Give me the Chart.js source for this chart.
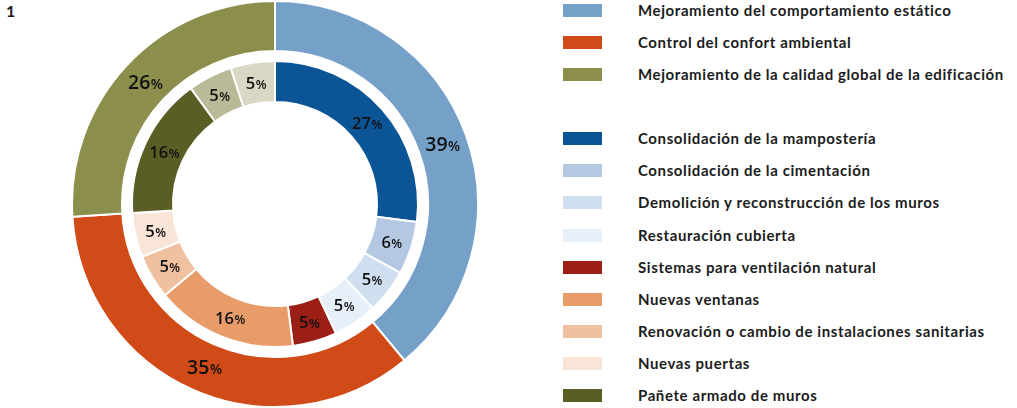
<!DOCTYPE html>
<html>
<head>
<meta charset="utf-8">
<script src="https://cdn.jsdelivr.net/npm/chart.js@4/dist/chart.umd.min.js"></script>
<style>
  html, body { margin: 0; padding: 0; background: #fff; }
  body { width: 1017px; height: 408px; position: relative; overflow: hidden; font-family: Lato, "Liberation Sans", sans-serif; }
  #num { position: absolute; left: 6px; top: 1px; font-weight: 700; font-size: 16px; color: #1a1a1a; }
  #wrap { position: absolute; left: 71px; top: 0; width: 408px; height: 408px; }
  #legend { position: absolute; left: 0; top: 0; }
  .row { position: absolute; left: 563px; height: 14px; white-space: nowrap; }
  .sw { position: absolute; left: 0; top: 0; width: 39px; height: 13px; }
  .lb { position: absolute; left: 75px; top: -3px; font-weight: 700; font-size: 15px; color: #1c1c1c; letter-spacing: 0.6px; }
</style>
</head>
<body>
<div id="num">1</div>
<div id="wrap"><canvas id="myChart" width="408" height="408"></canvas></div>
<div id="legend"></div>
<script>
// outer ring: three main groups
const groupLabels = [
  "Mejoramiento del comportamiento estático",
  "Control del confort ambiental",
  "Mejoramiento de la calidad global de la edificación"
];
const groupValues = [39, 35, 26];
const groupColors = ["#75a1c9", "#d04b18", "#8c8e4b"];

// inner ring: individual interventions (last two olive slices have no legend entry)
const itemLabels = [
  "Consolidación de la mampostería",
  "Consolidación de la cimentación",
  "Demolición y reconstrucción de los muros",
  "Restauración cubierta",
  "Sistemas para ventilación natural",
  "Nuevas ventanas",
  "Renovación o cambio de instalaciones sanitarias",
  "Nuevas puertas",
  "Pañete armado de muros",
  "",
  ""
];
const itemValues = [27, 6, 5, 5, 5, 16, 5, 5, 16, 5, 5];
const itemColors = ["#0b5597", "#b4c9e1", "#cfdfef", "#e7eff8", "#9b1f15", "#e89c69", "#f0c1a1", "#f9e4d8", "#5a5e24", "#b9ba98", "#d9d8c4"];

// legend on the right, groups first, then a blank row, then the items
const legend = document.getElementById("legend");
const rowStep = 32.08;
function addRow(label, color, slot) {
  const row = document.createElement("div");
  row.className = "row";
  row.style.top = (4 + slot * rowStep) + "px";
  row.innerHTML = '<div class="sw" style="background:' + color + '"></div><div class="lb"></div>';
  row.querySelector(".lb").textContent = label;
  legend.appendChild(row);
}
let slot = 0;
groupLabels.forEach((l, i) => addRow(l, groupColors[i], slot++));
slot++;
itemLabels.forEach((l, i) => { if (l) addRow(l, itemColors[i], slot++); });

// percentage labels with a smaller % sign
const pctLabels = {
  id: "pctLabels",
  afterDatasetsDraw(chart) {
    const ctx = chart.ctx;
    [[0, 19.5, 14], [2, 16.5, 12.5]].forEach(([di, big, small]) => {
      const meta = chart.getDatasetMeta(di);
      const values = chart.data.datasets[di].data;
      meta.data.forEach((arc, i) => {
        const p = arc.tooltipPosition();
        const num = String(values[i]);
        ctx.save();
        ctx.fillStyle = "#111";
        ctx.textBaseline = "alphabetic";
        ctx.textAlign = "left";
        ctx.font = "600 " + big + "px 'Open Sans', sans-serif";
        const w1 = ctx.measureText(num).width;
        ctx.font = "600 " + small + "px 'Open Sans', sans-serif";
        const w2 = ctx.measureText("%").width;
        const x0 = p.x - (w1 + w2) / 2;
        const y0 = p.y + big * 0.36;
        ctx.font = "600 " + big + "px 'Open Sans', sans-serif";
        ctx.fillText(num, x0, y0);
        ctx.font = "600 " + small + "px 'Open Sans', sans-serif";
        ctx.fillText("%", x0 + w1 + 0.5, y0);
        ctx.restore();
      });
    });
  }
};

const ctx = document.getElementById("myChart").getContext("2d");
new Chart(ctx, {
  type: "doughnut",
  data: {
    labels: itemLabels,
    datasets: [
      { data: groupValues, backgroundColor: groupColors, borderColor: "#fff", borderWidth: 2, weight: 50 },
      { data: [1], backgroundColor: "rgba(0,0,0,0)", borderWidth: 0, weight: 10 },
      { data: itemValues, backgroundColor: itemColors, borderColor: "#fff", borderWidth: 2, weight: 41 }
    ]
  },
  options: {
    responsive: false,
    animation: false,
    events: [],
    cutout: "50.25%",
    layout: { padding: 0 },
    plugins: { legend: { display: false }, tooltip: { enabled: false } }
  },
  plugins: [pctLabels]
});
</script>
</body>
</html>
